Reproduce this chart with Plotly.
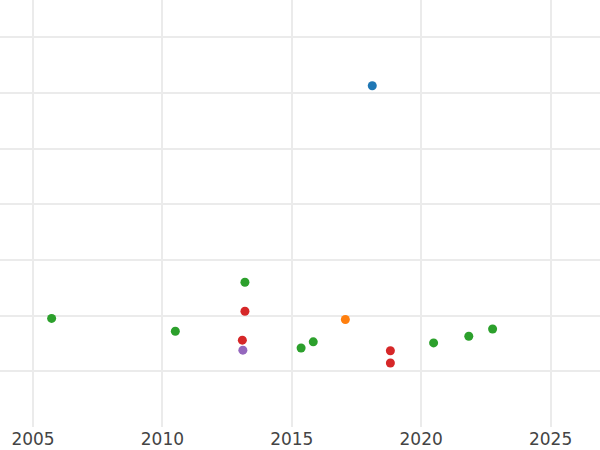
import plotly.graph_objects as go

# Data (x = year, y = value on hidden axis)
blue_x = [2018.11]
blue_y = [6.13]
orange_x = [2017.07]
orange_y = [1.93]
green_x = [2005.72, 2010.50, 2013.19, 2015.36, 2015.83, 2020.48, 2021.84, 2022.76]
green_y = [1.95, 1.72, 2.60, 1.42, 1.53, 1.51, 1.63, 1.76]
red_x = [2013.19, 2013.09, 2018.81, 2018.81]
red_y = [2.08, 1.56, 1.37, 1.15]
purple_x = [2013.11]
purple_y = [1.38]

x_tickvals = [2005, 2010, 2015, 2020, 2025]
x_ticktext = ["2005", "2010", "2015", "2020", "2025"]

series = [
    ("blue", blue_x, blue_y, "#1f77b4"),
    ("orange", orange_x, orange_y, "#ff7f0e"),
    ("green", green_x, green_y, "#2ca02c"),
    ("red", red_x, red_y, "#d62728"),
    ("purple", purple_x, purple_y, "#9467bd"),
]

fig = go.Figure()
for name, xs, ys, col in series:
    fig.add_trace(go.Scatter(x=xs, y=ys, mode="markers", name=name,
                             marker=dict(color=col, size=9, line=dict(width=0))))

fig.update_layout(
    width=600, height=450,
    margin=dict(l=0, r=0, t=0, b=23),
    paper_bgcolor="white", plot_bgcolor="white",
    showlegend=False,
    font=dict(family="DejaVu Sans", size=17, color="#444444"),
)
fig.update_xaxes(range=[2003.725, 2026.91], tickvals=x_tickvals, ticktext=x_ticktext,
                 showgrid=True, gridcolor="#ebebeb", gridwidth=1.5, zeroline=False,
                 showline=False, ticks="", automargin=False)
fig.update_yaxes(range=[0, 7.67], dtick=1, showticklabels=False,
                 showgrid=True, gridcolor="#ebebeb", gridwidth=1.5, zeroline=False,
                 showline=False, ticks="", automargin=False)

fig.write_html("out.html", config={"displayModeBar": False},
               post_script="document.body.style.margin='0';")
